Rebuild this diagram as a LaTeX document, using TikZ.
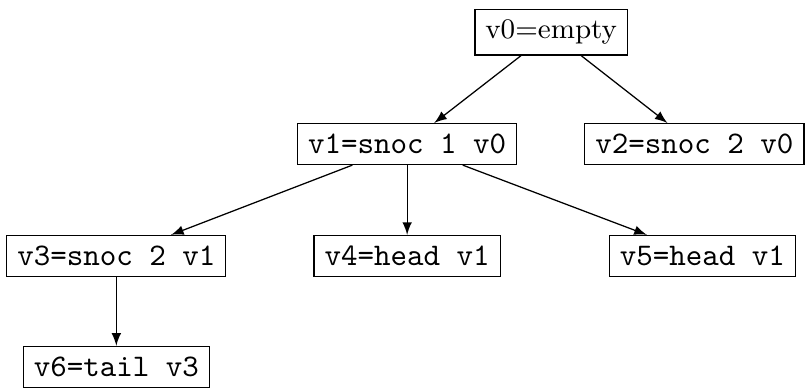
\documentclass[tikz,border=0pt]{standalone}
\begin{document}
\begin{tikzpicture}[val/.style={draw,rectangle},>=latex]
\useasboundingbox (0,0) rectangle (9.03,4.36);
% version tree
\node[val,font=\small] (v0) at (6.16,4.0) {v0=empty};
\node[val] (v1) at (4.55,2.75) {\texttt{v1=snoc 1 v0}};
\node[val] (v2) at (7.76,2.75) {\texttt{v2=snoc 2 v0}};
\node[val] (v3) at (1.30,1.5) {\texttt{v3=snoc 2 v1}};
\node[val] (v4) at (4.55,1.5) {\texttt{v4=head v1}};
\node[val] (v5) at (7.85,1.5) {\texttt{v5=head v1}};
\node[val] (v6) at (1.30,0.26) {\texttt{v6=tail v3}};
\draw[->] (v0) -- (v1);
\draw[->] (v0) -- (v2);
\draw[->] (v1) -- (v3);
\draw[->] (v1) -- (v4);
\draw[->] (v1) -- (v5);
\draw[->] (v3) -- (v6);
\end{tikzpicture}
\end{document}
